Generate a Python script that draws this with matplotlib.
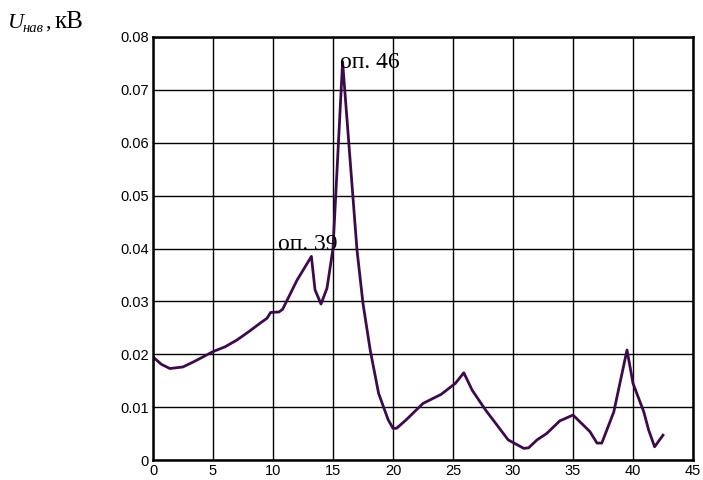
import matplotlib.pyplot as plt

# distance along the line (x) and induced voltage, kV (y)
x = [0, 0.7, 1.4, 2.5, 3.5, 5.0, 6.0, 7.0, 8.0, 9.0, 9.5, 9.8, 10.5, 10.8,
     12.0, 13.2, 13.5, 14.0, 14.5, 15.0, 15.8, 17.0, 17.5, 18.1, 18.8, 19.6,
     20.0, 20.3, 21.1, 22.5, 24.0, 25.2, 25.9, 26.6, 27.7, 29.6, 30.9, 31.3,
     32.0, 32.8, 33.9, 35.0, 36.4, 37.0, 37.4, 38.4, 39.5, 40.0, 40.9, 41.3,
     41.8, 42.5]
u = [0.0195, 0.0181, 0.0173, 0.0176, 0.0187, 0.0205, 0.0214, 0.0227, 0.0243,
     0.0260, 0.0268, 0.0279, 0.0280, 0.0285, 0.0340, 0.0385, 0.0322, 0.0295,
     0.0325, 0.0400, 0.0753, 0.0397, 0.0296, 0.0208, 0.0126, 0.0076, 0.0060,
     0.0060, 0.0076, 0.0107, 0.0124, 0.0145, 0.0165, 0.0132, 0.0095, 0.0038,
     0.0022, 0.0023, 0.0038, 0.0050, 0.0074, 0.0085, 0.0054, 0.0032, 0.0032,
     0.0091, 0.0208, 0.0145, 0.0091, 0.0057, 0.0025, 0.0047]

xticks = [0, 5, 10, 15, 20, 25, 30, 35, 40, 45]
yticks = [0, 0.01, 0.02, 0.03, 0.04, 0.05, 0.06, 0.07, 0.08]
ytick_labels = ['0', '0.01', '0.02', '0.03', '0.04', '0.05', '0.06', '0.07', '0.08']

plt.rcParams['font.family'] = ['Liberation Sans', 'DejaVu Sans']

fig = plt.figure(figsize=(7.03, 4.8), dpi=100)
ax = fig.add_axes([153 / 703, 20 / 480, 540 / 703, 423 / 480])

ax.plot(x, u, color='#3d0b4c', lw=2)

ax.set_xlim(0, 45)
ax.set_ylim(0, 0.08)
ax.set_xticks(xticks)
ax.set_xticklabels([str(t) for t in xticks])
ax.set_yticks(yticks)
ax.set_yticklabels(ytick_labels)
ax.tick_params(direction='in', length=0, labelsize=10.5, pad=3, color='black')
ax.grid(True, color='black', lw=1, ls='-')
ax.set_axisbelow(True)
for s in ax.spines.values():
    s.set_linewidth(1.8)
    s.set_color('black')

ax.text(15.6, 0.0741, 'оп. 46', family='Liberation Serif', fontsize=17)
ax.text(10.4, 0.0397, 'оп. 39', family='Liberation Serif', fontsize=17)

# axis title at top-left
fig.text(8 / 703, 1 - 28 / 480, 'U', family='Liberation Serif', style='italic',
         fontsize=16, va='baseline')
fig.text(23 / 703, 1 - 32 / 480, 'нав', family='Liberation Serif', style='italic',
         fontsize=10.5, va='baseline')
fig.text(45 / 703, 1 - 28 / 480, ',', family='Liberation Serif',
         fontsize=16, va='baseline')
fig.text(55 / 703, 1 - 28 / 480, 'кВ', family='Liberation Serif',
         fontsize=18, va='baseline')

fig.savefig('out.png', dpi=100)
